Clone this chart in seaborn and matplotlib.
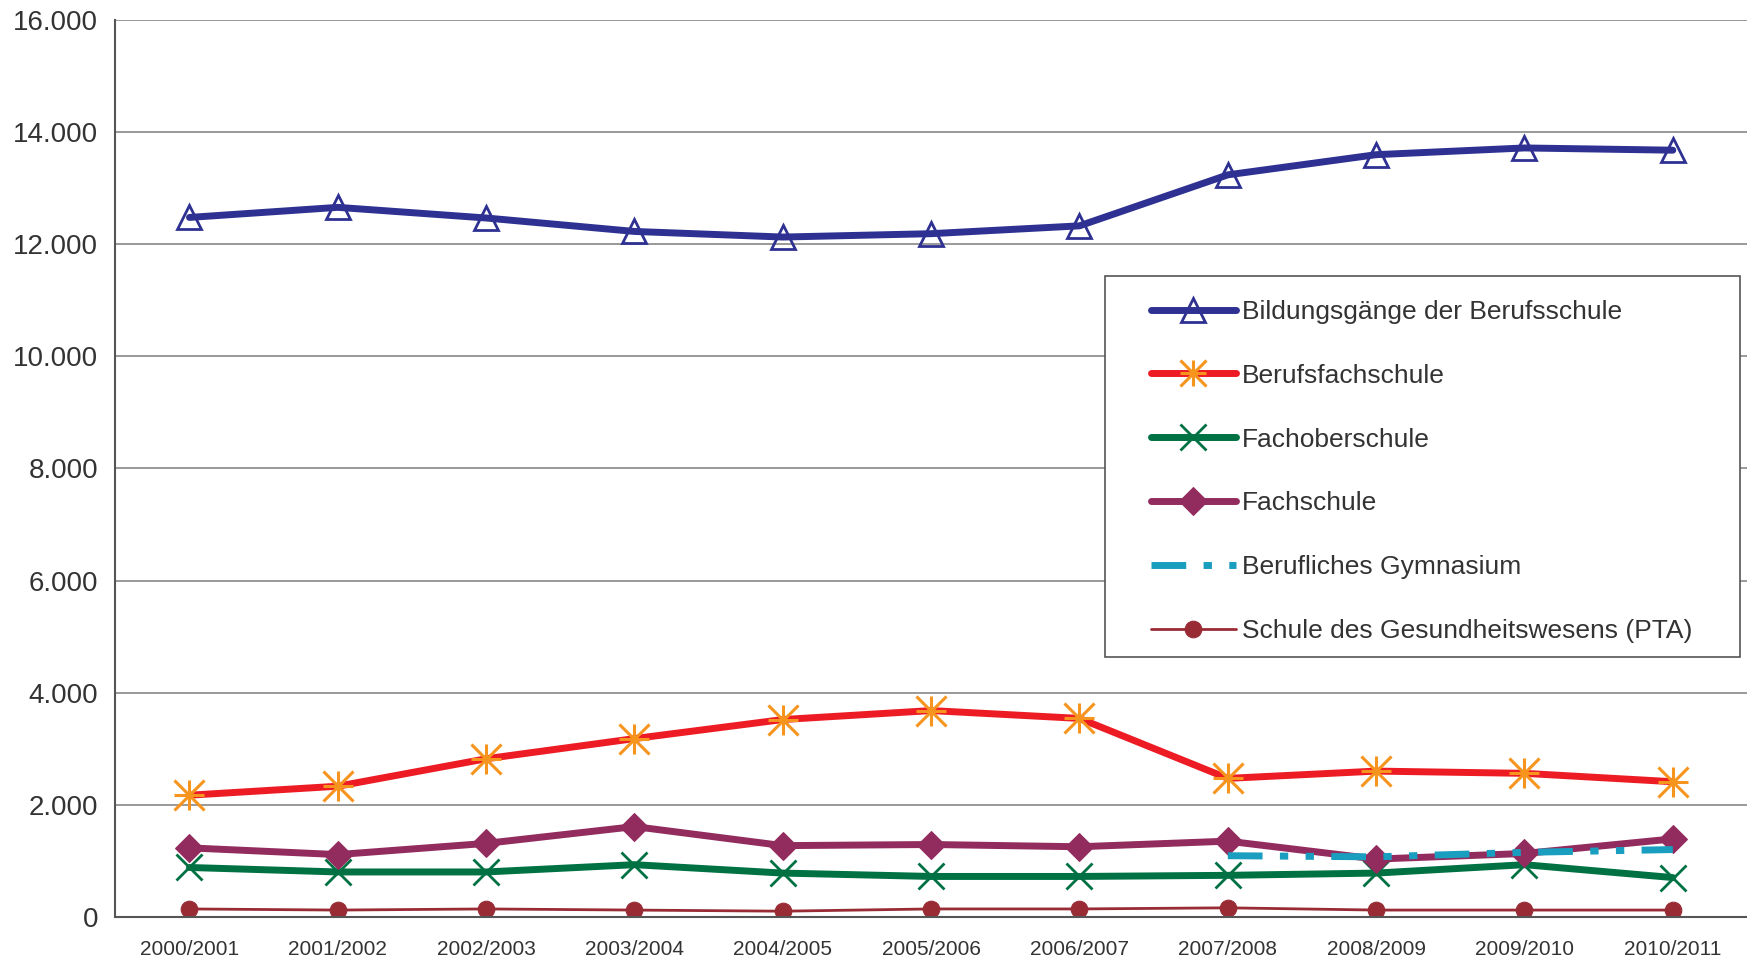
import numpy as np
import pandas as pd
import seaborn as sns
import matplotlib.pyplot as plt
from matplotlib.ticker import FuncFormatter
from matplotlib.lines import Line2D
from matplotlib.patches import Rectangle

sns.set_style("white")
plt.rcParams['font.family'] = ['Liberation Sans', 'DejaVu Sans']

# Schuljahre
years = ["2000/2001", "2001/2002", "2002/2003", "2003/2004", "2004/2005", "2005/2006",
         "2006/2007", "2007/2008", "2008/2009", "2009/2010", "2010/2011"]

berufsschule = [12480, 12660, 12470, 12230, 12130, 12190, 12330, 13240, 13600, 13720, 13680]
berufsfachschule = [2170, 2330, 2820, 3180, 3520, 3680, 3540, 2470, 2600, 2560, 2410]
fachoberschule = [880, 800, 800, 930, 780, 720, 720, 740, 780, 930, 700]
fachschule = [1230, 1110, 1310, 1610, 1270, 1290, 1250, 1350, 1030, 1130, 1390]
gymnasium = [np.nan] * 7 + [1090, 1070, 1150, 1200]
pta = [140, 120, 140, 120, 100, 140, 140, 160, 120, 120, 120]

df = pd.DataFrame({
    "Schuljahr": years,
    "Bildungsgänge der Berufsschule": berufsschule,
    "Berufsfachschule": berufsfachschule,
    "Fachoberschule": fachoberschule,
    "Fachschule": fachschule,
    "Berufliches Gymnasium": gymnasium,
    "Schule des Gesundheitswesens (PTA)": pta,
})

styles = {
    "Bildungsgänge der Berufsschule": dict(color="#2E3192", lw=5, marker="^", ms=17,
                                           mfc="none", mec="#2E3192", mew=2),
    "Berufsfachschule": dict(color="#ED1C24", lw=5, marker="*", ms=0),
    "Fachoberschule": dict(color="#007142", lw=5, marker="x", ms=19, mec="#007142", mew=2),
    "Fachschule": dict(color="#922B5E", lw=5, marker="D", ms=14, mfc="#922B5E", mec="#922B5E"),
    "Berufliches Gymnasium": dict(color="#1A9EBF", lw=5, ls=(0, (5, 2.5, 1.2, 2.5, 1.2, 2.5))),
    "Schule des Gesundheitswesens (PTA)": dict(color="#992B35", lw=2, marker="o", ms=12,
                                               mfc="#992B35", mec="#992B35"),
}

fig = plt.figure(figsize=(17.47, 9.61), dpi=100)
ax = fig.add_axes([0.066, 0.046, 0.934, 0.933])

x = np.arange(len(years))
for name, st in styles.items():
    st = dict(st)
    lw = st.pop("lw")
    ls = st.pop("ls", "-")
    color = st.pop("color")
    sns.lineplot(x=x, y=df[name], ax=ax, color=color, linewidth=lw, linestyle=ls,
                 label=name, solid_capstyle="round", **st)
    if name == "Berufsfachschule":
        # asterisk marker: plus + cross in orange
        for m in ["+", "x"]:
            ax.plot(x, df[name], linestyle="none", marker=m, ms=21, mew=2.2,
                    color="#F7941D", zorder=5)

ax.set_xlim(-0.5, 10.5)
ax.set_ylim(0, 16000)
ax.set_yticks(np.arange(0, 16001, 2000))
ax.yaxis.set_major_formatter(FuncFormatter(lambda v, p: f"{int(v):,}".replace(",", ".")))
ax.set_xticks(x)
ax.set_xticklabels(years)
ax.set_xticks(np.arange(-0.5, 10.6, 1), minor=True)
ax.tick_params(axis="x", which="major", length=0, labelsize=15, pad=17, colors="#333333")
ax.tick_params(axis="x", which="minor", length=7, width=1.2, color="#555555")
ax.tick_params(axis="y", length=9, width=1.2, color="#555555", labelsize=20, labelcolor="#333333")
ax.grid(axis="y", color="#888888", linewidth=1.2)
ax.set_axisbelow(True)
for s in ["top", "right"]:
    ax.spines[s].set_visible(False)
for s in ["left", "bottom"]:
    ax.spines[s].set_color("#555555")
    ax.spines[s].set_linewidth(1.5)
ax.set_xlabel("")
ax.set_ylabel("")

# legend with custom asterisk handle
handles, labels = ax.get_legend_handles_labels()
handles = list(handles)
idx = labels.index("Berufsfachschule")
handles[idx] = (Line2D([], [], color="#ED1C24", lw=5, solid_capstyle="round"),
                Line2D([], [], ls="none", marker="+", ms=19, mew=2.2, color="#F7941D"),
                Line2D([], [], ls="none", marker="x", ms=19, mew=2.2, color="#F7941D"))
leg = ax.legend(handles, labels, loc="upper left", bbox_to_anchor=(0.659, 0.688),
                bbox_transform=fig.transFigure, frameon=False, fontsize=19,
                handlelength=3.2, handletextpad=0.25, labelspacing=1.51,
                borderpad=0, borderaxespad=0)
for t in leg.get_texts():
    t.set_color("#333333")

# legend frame
ax.add_patch(Rectangle((0.6325, 0.3163), 0.3635, 0.3965, transform=fig.transFigure,
                       facecolor="white", edgecolor="#555555", linewidth=1.2, zorder=4))

fig.savefig("out.png", dpi=100)
